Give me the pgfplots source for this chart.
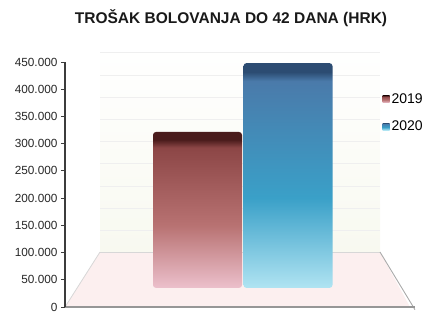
\documentclass[border=0pt]{standalone}
\usepackage{fontspec}
\setmainfont{Liberation Sans}
\usepackage{pgfplots}
\pgfplotsset{compat=1.18}
\definecolor{axisgray}{HTML}{3C3C3C}
\definecolor{floorpink}{HTML}{FCEFEF}
\definecolor{wallbot}{HTML}{F8F9F0}
\definecolor{gridfaint}{HTML}{EFEFEF}
\definecolor{rTop}{HTML}{4A1C1C}
\definecolor{rUp}{HTML}{8C4646}
\definecolor{rMid}{HTML}{B87272}
\definecolor{rBot}{HTML}{ECC0CC}
\definecolor{bTop}{HTML}{2C4C72}
\definecolor{bUp}{HTML}{4A7AAA}
\definecolor{bMid}{HTML}{3AA0C8}
\definecolor{bBot}{HTML}{B0E4F2}
\pgfdeclareverticalshading{bar19}{100bp}{color(0bp)=(rBot); color(25bp)=(rBot); color(45bp)=(rMid); color(70bp)=(rUp); color(72.5bp)=(rTop); color(75bp)=(rTop); color(100bp)=(rTop)}
\pgfdeclareverticalshading{bar20}{100bp}{color(0bp)=(bBot); color(25bp)=(bBot); color(45bp)=(bMid); color(71bp)=(bUp); color(73bp)=(bTop); color(75bp)=(bTop); color(100bp)=(bTop)}
\begin{document}
\begin{tikzpicture}
% background: wall and floor
\begin{axis}[
  at={(0,0)}, anchor=south west,
  scale only axis, width=345pt, height=245pt,
  xmin=0, xmax=345, ymin=0, ymax=450000,
  clip=false, axis lines=none, xtick=\empty, ytick=\empty,
]
\addplot[draw=none, top color=white, bottom color=wallbot] coordinates {(35,101000) (315,101000) (315,481000) (35,481000)} -- cycle;
\foreach \g in {141400,181800,222200,264500,304900,345300,385700,426100,468000}{
  \edef\tmp{\noexpand\addplot[gridfaint, line width=0.8pt] coordinates {(35,\g) (315,\g)};}
  \tmp
}
\addplot[fill=floorpink, draw=none] coordinates {(0,0) (345,0) (315,101000) (35,101000)} -- cycle;
\addplot[draw={rgb,255:red,215;green,215;blue,215}, line width=0.8pt] coordinates {(35,101000) (315,101000)};
\addplot[draw={rgb,255:red,215;green,215;blue,215}, line width=0.8pt] coordinates {(35,101000) (0,0)};
\addplot[draw={rgb,255:red,170;green,170;blue,170}, line width=0.9pt] coordinates {(315,101000) (350,-5000)};
\addplot[draw={rgb,255:red,150;green,150;blue,150}, line width=1.4pt] coordinates {(0,0) (350,0)};
\end{axis}
% bars
\begin{axis}[
  at={(0,0)}, anchor=south west,
  scale only axis, width=345pt, height=245pt,
  xmin=0, xmax=345, ymin=0, ymax=450000,
  clip=false,
  ybar stacked, bar width=89pt,
  axis x line=none, axis y line*=left,
  y axis line style={draw=axisgray, line width=1.6pt},
  ytick={0,50000,...,450000}, xtick=\empty,
  tick align=outside, major tick length=4pt,
  ytick style={draw=axisgray, line width=0.8pt},
  scaled y ticks=false,
  yticklabel style={font=\fontsize{11.8}{14}\selectfont, text=black!85,
    /pgf/number format/.cd, fixed, precision=0, 1000 sep={.}, assume math mode=true},
  legend style={at={(0.92,0.88)}, anchor=north west, draw=none, fill=none,
    font=\fontsize{14}{16}\selectfont, row sep=12pt, inner sep=0pt},
  legend cell align=left,
  legend image code/.code={\path[#1, sharp corners] (0pt,-3.5pt) rectangle (7pt,3.5pt);},
]
\addplot[forget plot, draw=none, fill=none] coordinates {(132.5,35000) (223,35000)};
\addplot[draw=none, shading=bar19, rounded corners=3pt] coordinates {(132.5,286500) (223,0)};
\addplot[draw=none, shading=bar20, rounded corners=3pt] coordinates {(132.5,0) (223,413000)};
\legend{2019,2020}
\end{axis}
\node[font=\bfseries\fontsize{15.5}{18}\selectfont, text=black!90] at (166pt,289pt) {TROŠAK BOLOVANJA DO 42 DANA (HRK)};
\pgfresetboundingbox
\useasboundingbox (-65pt,-4pt) rectangle (357pt,307pt);
\end{tikzpicture}
\end{document}
